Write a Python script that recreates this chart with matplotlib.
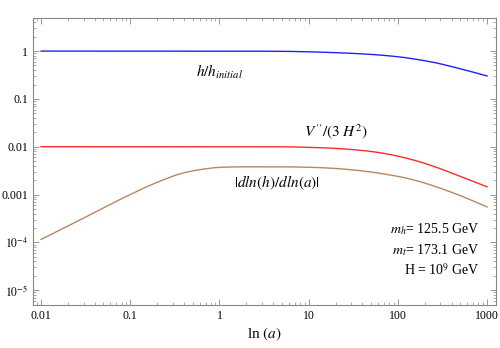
import matplotlib
matplotlib.use("Agg")
import matplotlib.pyplot as plt
import numpy as np
from matplotlib.ticker import FixedLocator, NullFormatter, LogLocator

plt.rcParams['font.family'] = ['Liberation Serif', 'DejaVu Serif']
plt.rcParams['mathtext.fontset'] = 'stix'

# data
lna = [0.01, 0.02, 0.05, 0.1, 0.2, 0.4, 0.7, 1, 2, 5, 10, 20, 46, 70, 107, 165, 250, 500, 1000]
h_ratio = [1.0, 1.0, 1.0, 1.0, 1.0, 1.0, 1.0, 1.0, 0.998, 0.989, 0.966, 0.927, 0.861, 0.813, 0.750, 0.668, 0.582, 0.427, 0.302]
vpp = [0.0100, 0.0100, 0.0100, 0.0100, 0.0100, 0.0100, 0.0100, 0.0100, 0.00999, 0.00995, 0.0097, 0.00923, 0.0081, 0.00724, 0.00617, 0.0050, 0.0039, 0.0024, 0.00145]
dlnh = [1.15e-4, 2.19e-4, 5.25e-4, 1.0e-3, 1.80e-3, 2.85e-3, 3.45e-3, 3.70e-3, 3.80e-3, 3.80e-3, 3.72e-3, 3.51e-3, 3.02e-3, 2.69e-3, 2.34e-3, 1.93e-3, 1.52e-3, 9.5e-4, 5.5e-4]

xticks = [0.01, 0.1, 1, 10, 100, 1000]
xticklabels = ['0.01', '0.1', '1', '10', '100', '1000']
yticks = [1, 0.1, 0.01, 0.001, 1e-4, 1e-5]
yticklabels = ['1', '0.1', '0.01', '0.001', r'$10^{-4}$', r'$10^{-5}$']

fig = plt.figure(figsize=(5.0, 3.48), dpi=100)
ax = fig.add_axes([0.066, 0.1236, 0.926, 0.8244])


def pchip(x, y, xs):
    x = np.asarray(x, float)
    y = np.asarray(y, float)
    h = np.diff(x)
    d = np.diff(y) / h
    n = len(x)
    m = np.zeros(n)
    for i in range(1, n - 1):
        if d[i - 1] * d[i] <= 0:
            m[i] = 0.0
        else:
            w1 = 2 * h[i] + h[i - 1]
            w2 = h[i] + 2 * h[i - 1]
            m[i] = (w1 + w2) / (w1 / d[i - 1] + w2 / d[i])
    m[0] = d[0]
    m[-1] = d[-1]
    idx = np.clip(np.searchsorted(x, xs) - 1, 0, n - 2)
    t = (xs - x[idx]) / h[idx]
    h00 = 2 * t**3 - 3 * t**2 + 1
    h10 = t**3 - 2 * t**2 + t
    h01 = -2 * t**3 + 3 * t**2
    h11 = t**3 - t**2
    return h00 * y[idx] + h10 * h[idx] * m[idx] + h01 * y[idx + 1] + h11 * h[idx] * m[idx + 1]


def smooth(x, y):
    lx = np.log10(x)
    ly = np.log10(y)
    xs = np.linspace(lx[0], lx[-1], 600)
    ys = pchip(lx, ly, xs)
    return 10 ** xs, 10 ** ys

for y, c in [(h_ratio, '#2020ff'), (vpp, '#ff2a2a'), (dlnh, '#b8885e')]:
    xs, ys = smooth(lna, y)
    ax.plot(xs, ys, color=c, lw=1.0)

ax.set_xscale('log')
ax.set_yscale('log')
ax.set_xlim(10 ** -2.09, 10 ** 3.1)
ax.set_ylim(10 ** -5.31, 10 ** 0.69)

ax.xaxis.set_major_locator(FixedLocator(xticks))
ax.set_xticklabels(xticklabels)
ax.yaxis.set_major_locator(FixedLocator(yticks))
ax.set_yticklabels(yticklabels)
ax.xaxis.set_minor_locator(LogLocator(base=10, subs=np.arange(2, 10)))
ax.yaxis.set_minor_locator(LogLocator(base=10, subs=np.arange(2, 10)))
ax.xaxis.set_minor_formatter(NullFormatter())
ax.yaxis.set_minor_formatter(NullFormatter())

ax.tick_params(which='both', direction='in', top=True, right=True, color='#888888', labelsize=8.5)
ax.tick_params(which='major', length=4, width=0.6)
ax.tick_params(which='minor', length=2, width=0.5)
for s in ax.spines.values():
    s.set_color('#888888')
    s.set_linewidth(0.8)

ax.set_xlabel(r'ln $(a)$', fontsize=11, labelpad=3)

ax.text(1.0, 0.36, r'$h/h_{initial}$', fontsize=11, ha='center', va='center')
ax.text(20, 0.0205, r"$V\,''/(3\ H^2)$", fontsize=11, ha='center', va='center')
ax.text(4.4, 0.0018, r'$|dln(h)/dln(a)|$', fontsize=11, ha='center', va='center')

ax.text(0.965, 0.265, r'$m_h$= 125.5 GeV', transform=ax.transAxes, fontsize=10, ha='right', va='center')
ax.text(0.965, 0.192, r'$m_t$= 173.1 GeV', transform=ax.transAxes, fontsize=10, ha='right', va='center')
ax.text(0.965, 0.122, r'H = 10$^9$ GeV', transform=ax.transAxes, fontsize=10, ha='right', va='center')

fig.savefig('out.png', dpi=100)
